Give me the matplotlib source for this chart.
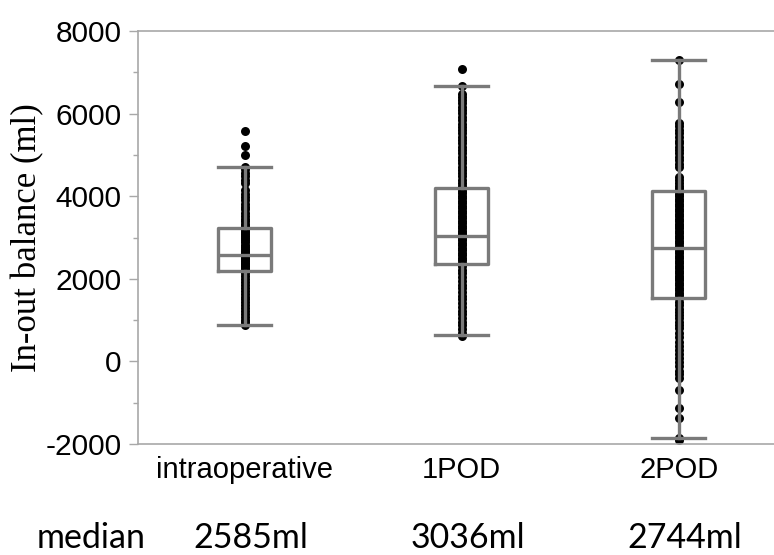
import matplotlib
matplotlib.use("Agg")
import matplotlib.pyplot as plt
from matplotlib.ticker import MultipleLocator

plt.rcParams['axes.unicode_minus'] = False

# Các nhóm thời điểm
groups = ["intraoperative", "1POD", "2POD"]
median_labels = ["2585ml", "3036ml", "2744ml"]

# Thống kê hộp
medians = [2585, 3036, 2744]
q1 = [2180, 2350, 1530]
q3 = [3220, 4190, 4130]
whis_low = [880, 640, -1850]
whis_high = [4720, 6670, 7300]

# Các điểm dữ liệu (ml)
intra_pts = [5570, 5210, 4990, 4720, 4650, 4560, 4480, 4400, 4310, 4150, 4060,
             3980, 3900, 3820, 3750, 3680, 3600, 3530, 3460, 3400, 3340, 3280,
             3220, 3180, 3130, 3080, 3030, 2980, 2930, 2880, 2830, 2780, 2730,
             2680, 2630, 2590, 2550, 2510, 2470, 2430, 2390, 2350, 2310, 2270,
             2230, 2190, 2130, 2060, 1990, 1920, 1850, 1780, 1710, 1640, 1570,
             1500, 1430, 1360, 1290, 1220, 1150, 1080, 1010, 950, 880]
pod1_pts = [7070, 6680, 6470, 6400, 6330, 6250, 6170, 6090, 6010, 5920, 5840,
            5760, 5680, 5600, 5520, 5440, 5360, 5280, 5200, 5120, 5040, 4960,
            4880, 4800, 4720, 4640, 4560, 4480, 4400, 4330, 4260, 4190, 4130,
            4070, 4010, 3950, 3890, 3830, 3770, 3710, 3650, 3590, 3530, 3470,
            3410, 3350, 3290, 3230, 3170, 3110, 3050, 2990, 2930, 2870, 2810,
            2750, 2690, 2630, 2570, 2510, 2450, 2390, 2310, 2220, 2130, 2040,
            1950, 1860, 1770, 1680, 1590, 1500, 1410, 1320, 1230, 1140, 1050,
            960, 870, 780, 700, 620]
pod2_pts = [7310, 6720, 6290, 5770, 5690, 5600, 5520, 5430, 5350, 5290, 5200,
            5120, 5040, 4950, 4870, 4780, 4700, 4460, 4400, 4330, 4260, 4190,
            4120, 4060, 4000, 3940, 3880, 3820, 3760, 3700, 3640, 3580, 3520,
            3460, 3400, 3340, 3280, 3220, 3160, 3100, 3040, 2980, 2920, 2860,
            2800, 2740, 2680, 2620, 2560, 2500, 2440, 2380, 2320, 2260, 2200,
            2140, 2080, 2020, 1960, 1900, 1840, 1780, 1720, 1660, 1600, 1540,
            1440, 1360, 1280, 1200, 1120, 1040, 960, 880, 800, 700, 600, 480,
            380, 280, 180, 80, -20, -120, -220, -310, -400, -690, -1130, -1370,
            -1850, -1910]
all_pts = [intra_pts, pod1_pts, pod2_pts]

GRAY = "#7a7a7a"
AXIS_GRAY = "#a8a8a8"

fig = plt.figure(figsize=(7.74, 5.55), dpi=100)
ax = fig.add_axes([0.178, 0.2, 0.839, 0.744])

# Vẽ các điểm
for i, pts in enumerate(all_pts):
    ax.scatter([i] * len(pts), pts, s=42, color="black", zorder=2, linewidths=0)

# Vẽ hộp
stats = []
for i in range(len(groups)):
    stats.append(dict(med=medians[i], q1=q1[i], q3=q3[i],
                      whislo=whis_low[i], whishi=whis_high[i], fliers=[]))
line_kw = dict(color=GRAY, linewidth=2.4)
ax.bxp(stats, positions=range(len(groups)), widths=0.245, capwidths=0.245,
       showfliers=False, patch_artist=False,
       boxprops=dict(line_kw, solid_joinstyle="round"), medianprops=line_kw,
       whiskerprops=line_kw, capprops=line_kw, zorder=3)

ax.set_xlim(-0.493, 2.5)
ax.set_ylim(-2000, 8000)
ax.yaxis.set_major_locator(MultipleLocator(2000))
ax.yaxis.set_minor_locator(MultipleLocator(1000))
ax.set_xticks(range(len(groups)))
ax.set_xticklabels(groups, fontsize=21, fontfamily="Liberation Sans")
for lab in ax.get_yticklabels():
    lab.set_fontfamily("Liberation Sans")
ax.tick_params(axis="y", which="major", length=6.5, width=1, color=AXIS_GRAY,
               labelsize=21.5, pad=5)
ax.tick_params(axis="y", which="minor", length=3.6, width=1, color=AXIS_GRAY)
ax.tick_params(axis="x", length=0, pad=9)
for sp in ax.spines.values():
    sp.set_color(AXIS_GRAY)
    sp.set_linewidth(1.2)

fig.text(0.036, 0.572, "In-out balance (ml)", rotation=90, ha="center",
         va="center", fontsize=25, fontfamily="Liberation Serif")

# Dòng trung vị phía dưới
fig.text(0.118, 0.012, "median", ha="center", va="baseline", fontsize=24.5,
         fontfamily="Lato")
for i, t in enumerate(median_labels):
    xf = ax.transData.transform((i, 0))[0] / fig.bbox.width + 0.008
    fig.text(xf, 0.012, t, ha="center", va="baseline", fontsize=24.5,
             fontfamily="Lato")

fig.savefig("out.png", dpi=100)
